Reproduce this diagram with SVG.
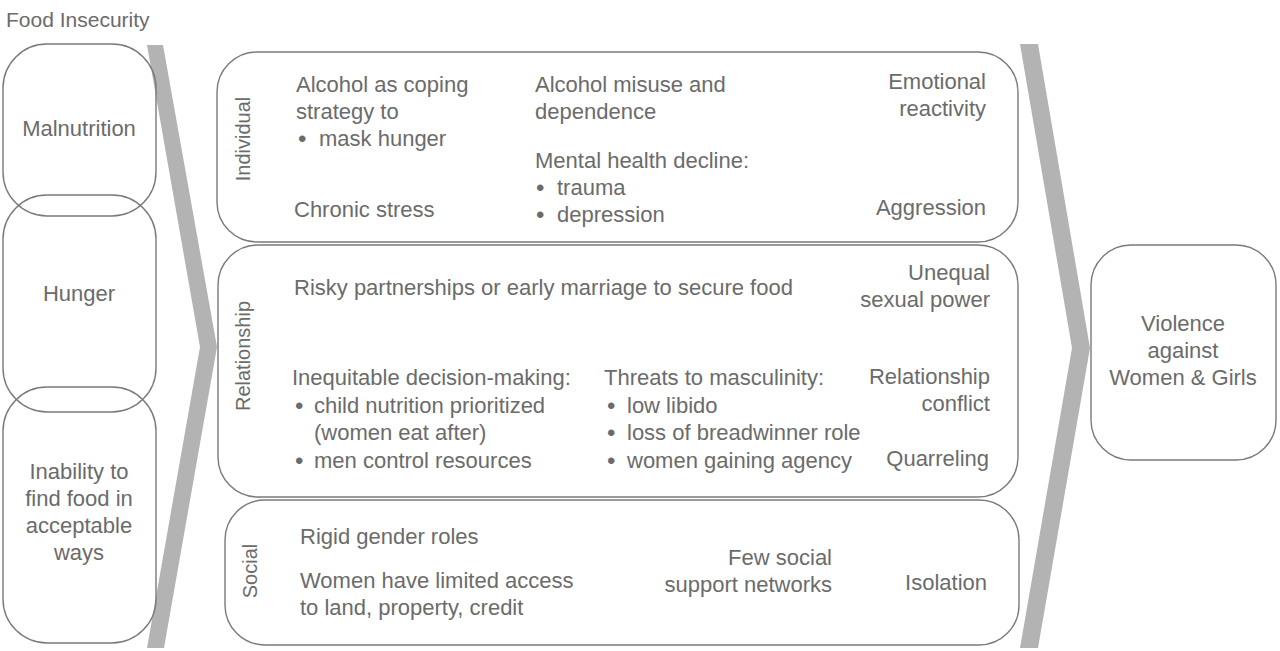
<svg xmlns="http://www.w3.org/2000/svg" width="1280" height="651" viewBox="0 0 1280 651">
<style>
  text { font-family: "Liberation Sans", Arial, sans-serif; font-size: 22px; fill: #6b6b6b; }
  .box { fill: none; stroke: #7a7a7a; stroke-width: 1.4; }
  .chev { fill: #b3b3b3; }
  .c { text-anchor: middle; }
  .r { text-anchor: end; }
  .lvl { font-size: 20px; }
  .b { font-size: 24px; }
</style>
<rect width="1280" height="651" fill="#ffffff"/>
<text x="6" y="27" style="font-size:21px">Food Insecurity</text>

<g id="connectors">
  <polygon class="chev" points="147,45 163,45 217,347 164,648 147,648 200,347"/>
  <polygon class="chev" points="1020,44 1038,44 1090,348 1038,648 1020,648 1072,348"/>
</g>

<g id="malnutrition">
  <rect class="box" x="3" y="44" width="153" height="172" rx="44"/>
  <text class="c" x="79" y="136">Malnutrition</text>
</g>
<g id="hunger">
  <rect class="box" x="3" y="195" width="153" height="217" rx="44"/>
  <text class="c" x="79" y="301">Hunger</text>
</g>
<g id="inability">
  <rect class="box" x="3" y="387" width="153" height="256" rx="44"/>
  <text class="c" x="79" y="479">Inability to</text>
  <text class="c" x="79" y="506">find food in</text>
  <text class="c" x="79" y="533">acceptable</text>
  <text class="c" x="79" y="560">ways</text>
</g>

<g id="individual">
  <rect class="box" x="217" y="52" width="801" height="190" rx="40"/>
  <text class="c lvl" transform="translate(250,139) rotate(-90)">Individual</text>
  <text x="296" y="92">Alcohol as coping</text>
  <text x="296" y="119">strategy to</text>
  <text class="b" x="298" y="147">•</text><text x="319" y="146">mask hunger</text>
  <text x="294" y="217">Chronic stress</text>
  <text x="535" y="92">Alcohol misuse and</text>
  <text x="535" y="119">dependence</text>
  <text x="535" y="168">Mental health decline:</text>
  <text class="b" x="536" y="196">•</text><text x="557" y="195">trauma</text>
  <text class="b" x="536" y="223">•</text><text x="557" y="222">depression</text>
  <text class="r" x="986" y="89">Emotional</text>
  <text class="r" x="986" y="116">reactivity</text>
  <text class="r" x="986" y="215">Aggression</text>
</g>

<g id="relationship">
  <rect class="box" x="218" y="245" width="800" height="252" rx="40"/>
  <text class="c lvl" transform="translate(250,356) rotate(-90)">Relationship</text>
  <text x="294" y="295">Risky partnerships or early marriage to secure food</text>
  <text class="r" x="990" y="280">Unequal</text>
  <text class="r" x="990" y="307">sexual power</text>
  <text x="292" y="385">Inequitable decision-making:</text>
  <text class="b" x="295" y="414">•</text><text x="314" y="413">child nutrition prioritized</text>
  <text x="314" y="440">(women eat after)</text>
  <text class="b" x="295" y="469">•</text><text x="314" y="468">men control resources</text>
  <text x="604" y="385">Threats to masculinity:</text>
  <text class="b" x="607" y="414">•</text><text x="627" y="413">low libido</text>
  <text class="b" x="607" y="441">•</text><text x="627" y="440">loss of breadwinner role</text>
  <text class="b" x="607" y="469">•</text><text x="627" y="468">women gaining agency</text>
  <text class="r" x="990" y="384">Relationship</text>
  <text class="r" x="990" y="411">conflict</text>
  <text class="r" x="989" y="466">Quarreling</text>
</g>

<g id="social">
  <rect class="box" x="225" y="500" width="794" height="145" rx="40"/>
  <text class="c lvl" transform="translate(257,571) rotate(-90)">Social</text>
  <text x="300" y="544">Rigid gender roles</text>
  <text x="300" y="588">Women have limited access</text>
  <text x="300" y="615">to land, property, credit</text>
  <text class="r" x="832" y="565">Few social</text>
  <text class="r" x="832" y="592">support networks</text>
  <text class="r" x="987" y="590">Isolation</text>
</g>

<g id="violence">
  <rect class="box" x="1091" y="245" width="185" height="215" rx="40"/>
  <text class="c" x="1183" y="331">Violence</text>
  <text class="c" x="1183" y="358">against</text>
  <text class="c" x="1183" y="385">Women &amp; Girls</text>
</g>
</svg>
